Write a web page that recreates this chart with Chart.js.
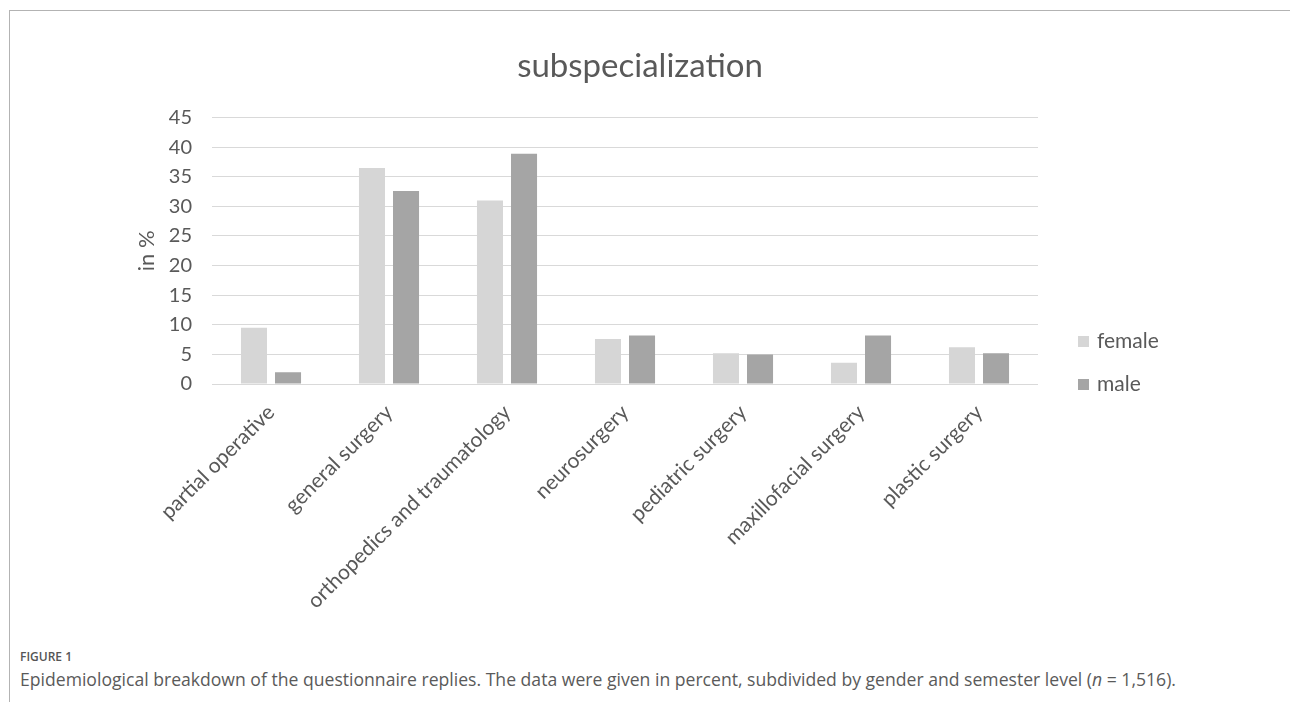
<!DOCTYPE html>
<html>
<head>
<meta charset="utf-8">
<title>subspecialization</title>
<script src="https://cdn.jsdelivr.net/npm/chart.js@4.4.0/dist/chart.umd.min.js"></script>
<style>
  html, body { margin: 0; padding: 0; background: #fff; }
  #page { position: relative; width: 1290px; height: 702px; overflow: hidden; }
  #frame { position: absolute; left: 9px; top: 10px; width: 1320px; height: 740px;
           border-top: 1px solid #b3b3b3; border-left: 1px solid #b3b3b3; }
  #wrap { position: absolute; left: 10px; top: 11px; width: 1260px; height: 630px; }
  #figLabel { position: absolute; left: 20px; top: 648px; font-family: "Open Sans", sans-serif;
              font-weight: 600; font-size: 12px; color: #555; }
  #caption { position: absolute; left: 20px; top: 667px; font-family: "Open Sans", sans-serif;
             font-size: 17.6px; color: #5a5a5a; white-space: nowrap; }
</style>
</head>
<body>
<div id="page">
  <div id="frame"></div>
  <div id="wrap"><canvas id="chart"></canvas></div>
  <div id="figLabel">FIGURE 1</div>
  <div id="caption">Epidemiological breakdown of the questionnaire replies. The data were given in percent, subdivided by gender and semester level (<i>n</i> = 1,516).</div>
</div>
<script>
// Subspecialization shares by gender, in percent
const categories = [
  'partial operative',
  'general surgery',
  'orthopedics and traumatology',
  'neurosurgery',
  'pediatric surgery',
  'maxillofacial surgery',
  'plastic surgery'
];
const female = [9.5, 36.5, 31.0, 7.6, 5.2, 3.6, 6.2];
const male = [2.0, 32.6, 38.9, 8.2, 5.0, 8.2, 5.2];
const seriesNames = ['female', 'male'];
const yMin = 0, yMax = 45, yStep = 5;

const TEXT = '#595959';
const FONT = 'Lato';

// Legend drawn as a column to the right of the plot, rows counted up from the zero line
const sideLegend = {
  id: 'sideLegend',
  afterDraw(chart, args, opts) {
    const { ctx, chartArea } = chart;
    const sets = chart.data.datasets;
    ctx.save();
    ctx.font = opts.size + 'px ' + FONT;
    ctx.textBaseline = 'middle';
    ctx.textAlign = 'left';
    sets.forEach((ds, i) => {
      const cy = chartArea.bottom - (sets.length - 1 - i) * opts.rowGap;
      const x = chartArea.right + opts.offset;
      ctx.fillStyle = ds.backgroundColor;
      ctx.fillRect(x, Math.round(cy - opts.box / 2), opts.box, opts.box);
      ctx.fillStyle = TEXT;
      ctx.fillText(ds.label, x + opts.box + opts.gap, cy);
    });
    ctx.restore();
  }
};

new Chart(document.getElementById('chart'), {
  type: 'bar',
  data: {
    labels: categories,
    datasets: [
      { label: seriesNames[0], data: female, backgroundColor: '#d6d6d6' },
      { label: seriesNames[1], data: male, backgroundColor: '#a5a5a5' }
    ]
  },
  options: {
    responsive: true,
    maintainAspectRatio: false,
    animation: false,
    categoryPercentage: 0.577,
    barPercentage: 0.765,
    layout: { padding: 0 },
    plugins: {
      legend: { display: false },
      tooltip: { enabled: false },
      title: {
        display: true,
        text: 'subspecialization',
        color: TEXT,
        font: { family: FONT, size: 33, weight: 'normal' },
        padding: { top: 36, bottom: 31 }
      },
      sideLegend: { size: 21, box: 11, gap: 8, offset: 40, rowGap: 43 }
    },
    scales: {
      x: {
        grid: { display: false },
        border: { display: false },
        ticks: {
          color: TEXT,
          font: { family: FONT, size: 21 },
          maxRotation: 45,
          minRotation: 45,
          autoSkip: false,
          padding: 8
        },
        afterFit(scale) { scale.height = 257; }
      },
      y: {
        min: yMin,
        max: yMax,
        border: { display: false },
        grid: { color: '#d9d9d9', lineWidth: 1, drawTicks: false },
        ticks: {
          stepSize: yStep,
          color: TEXT,
          font: { family: FONT, size: 20 },
          padding: 20
        },
        title: {
          display: true,
          text: 'in %',
          color: TEXT,
          font: { family: FONT, size: 22 },
          padding: { top: 124, bottom: 0 }
        },
        afterFit(scale) { scale.width = 202; }
      },
      // empty axis that reserves the column holding the legend
      side: {
        type: 'linear',
        position: 'right',
        display: true,
        grid: { display: false },
        border: { display: false },
        ticks: { display: false },
        afterFit(scale) { scale.width = 232; }
      }
    }
  },
  plugins: [sideLegend]
});
</script>
</body>
</html>
